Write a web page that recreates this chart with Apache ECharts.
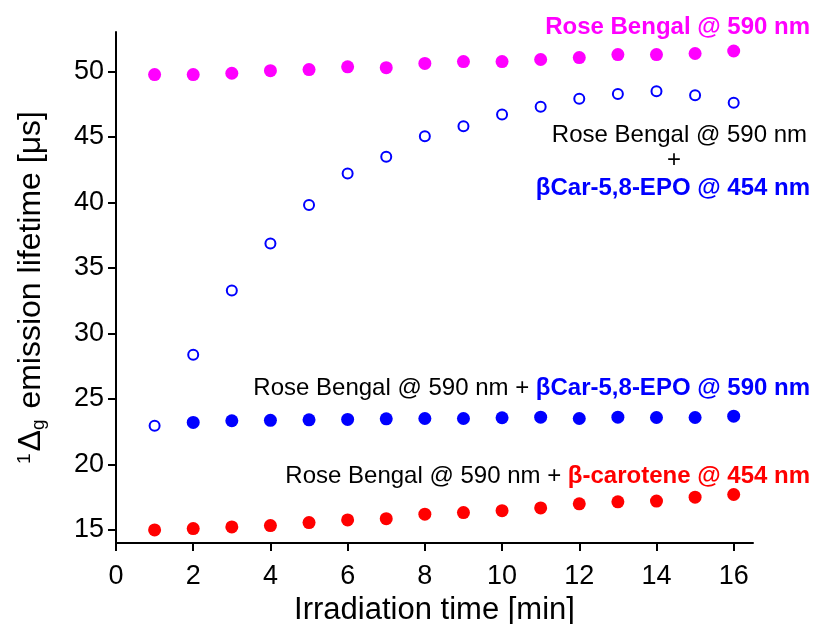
<!DOCTYPE html>
<html>
<head>
<meta charset="utf-8">
<script src="https://cdn.jsdelivr.net/npm/echarts@6/dist/echarts.min.js"></script>
<style>html,body{margin:0;padding:0;background:#fff}#c{width:815px;height:624px}</style>
</head>
<body>
<div id="c"></div>
<script>
var times = [1,2,3,4,5,6,7,8,9,10,11,12,13,14,15,16];
var roseBengal = [49.75,49.75,49.85,50.05,50.13,50.34,50.28,50.6,50.74,50.74,50.9,51.05,51.28,51.28,51.36,51.55];
var epo454 = [22.95,28.37,33.28,36.85,39.8,42.2,43.47,45.05,45.8,46.7,47.3,47.9,48.27,48.47,48.17,47.6];
var epo590Times = [2,3,4,5,6,7,8,9,10,11,12,13,14,15,16];
var epo590 = [23.2,23.33,23.36,23.4,23.43,23.48,23.5,23.5,23.56,23.6,23.5,23.6,23.58,23.58,23.68];
var carotene454 = [15.0,15.1,15.23,15.33,15.56,15.76,15.86,16.2,16.32,16.47,16.68,16.99,17.14,17.2,17.5,17.7];
var xTicks = [0,2,4,6,8,10,12,14,16];
var yTicks = [15,20,25,30,35,40,45,50];

function pairs(xs, ys){ return xs.map(function(x,i){return [x, ys[i]];}); }

var FONT = 'Liberation Sans, Arial, Helvetica, sans-serif';
var chart = echarts.init(document.getElementById('c'));
chart.setOption({
  backgroundColor:'#fff',
  animation:false,
  textStyle:{fontFamily:FONT},
  grid:{left:116,right:62,top:32,bottom:81,containLabel:false,outerBoundsMode:'none'},
  xAxis:{
    type:'value', min:0, max:16.5,
    axisLine:{onZero:false, lineStyle:{color:'#000',width:2}},
    axisTick:{customValues:xTicks, length:8, lineStyle:{color:'#000',width:2}},
    axisLabel:{customValues:xTicks, color:'#000', fontSize:27, margin:20, fontFamily:FONT},
    splitLine:{show:false},
    name:'Irradiation time [min]', nameLocation:'middle', nameGap:49,
    nameTextStyle:{color:'#000', fontSize:31, fontFamily:FONT}
  },
  yAxis:{
    type:'value', min:14, max:53,
    axisLine:{onZero:false, lineStyle:{color:'#000',width:2}},
    axisTick:{customValues:yTicks, length:8, lineStyle:{color:'#000',width:2}},
    axisLabel:{customValues:yTicks, color:'#000', fontSize:27, margin:12, fontFamily:FONT},
    splitLine:{show:false},
    name:'{sup|1}{d|Δ}{sub|g}{d| emission lifetime [μs]}', nameLocation:'middle', nameGap:68, nameRotate:90,
    nameTextStyle:{color:'#000', fontFamily:FONT, rich:{
      d:{fontSize:32, fontFamily:FONT, color:'#000'},
      sup:{fontSize:19, fontFamily:FONT, color:'#000', verticalAlign:'top', padding:[0,2,14,0]},
      sub:{fontSize:19, fontFamily:FONT, color:'#000', verticalAlign:'bottom', padding:[12,2,0,0]}
    }}
  },
  series:[
    {type:'scatter', name:'RB590', data:pairs(times, roseBengal), symbol:'circle', symbolSize:13, itemStyle:{color:'#ff00ff', opacity:1}},
    {type:'scatter', name:'EPO454', data:pairs(times, epo454), symbol:'emptyCircle', symbolSize:10, itemStyle:{color:'#0000ff', borderColor:'#0000ff', borderWidth:2, opacity:1}},
    {type:'scatter', name:'EPO590', data:pairs(epo590Times, epo590), symbol:'circle', symbolSize:13, itemStyle:{color:'#0000ff', opacity:1}},
    {type:'scatter', name:'Car454', data:pairs(times, carotene454), symbol:'circle', symbolSize:13, itemStyle:{color:'#ff0000', opacity:1}}
  ],
  graphic:[
    {type:'text', right:5, top:15, style:{text:'Rose Bengal @ 590 nm', font:'bold 24px '+FONT, fill:'#ff00ff'}},
    {type:'text', right:8, top:123, style:{text:'Rose Bengal @ 590 nm', font:'24px '+FONT, fill:'#000'}},
    {type:'text', left:667, top:148, style:{text:'+', font:'24px '+FONT, fill:'#000'}},
    {type:'text', right:5, top:176, style:{text:'βCar-5,8-EPO @ 454 nm', font:'bold 24px '+FONT, fill:'#0000ff'}},
    {type:'text', right:5, top:376, style:{rich:{
        k:{font:'24px '+FONT, fill:'#000'},
        b:{font:'bold 24px '+FONT, fill:'#0000ff'}},
      text:'{k|Rose Bengal @ 590 nm + }{b|βCar-5,8-EPO @ 590 nm}'}},
    {type:'text', right:5, top:464, style:{rich:{
        k:{font:'24px '+FONT, fill:'#000'},
        r:{font:'bold 24px '+FONT, fill:'#ff0000'}},
      text:'{k|Rose Bengal @ 590 nm + }{r|β-carotene @ 454 nm}'}}
  ]
});
</script>
</body>
</html>
